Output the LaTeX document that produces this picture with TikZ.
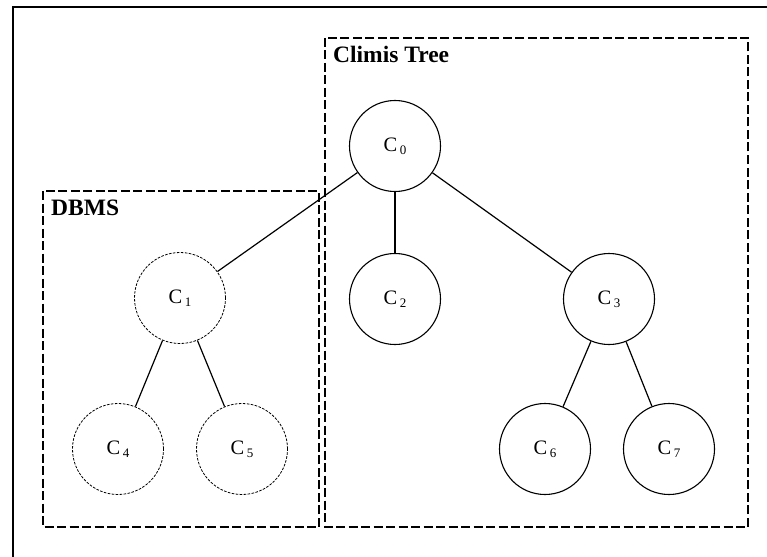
\documentclass[tikz,border=0pt]{standalone}
\usepackage{fontspec}
\setmainfont{Liberation Serif}
% cluster name with a lowered, smaller index
\newcommand{\cname}[1]{C\kern2.5pt\raisebox{-3pt}{\fontsize{13}{13}\selectfont #1}}
\begin{document}
\begin{tikzpicture}[x=1pt,y=-1pt,
  cluster/.style={circle, draw, fill=white, line width=1.1pt, minimum size=91pt,
    inner sep=0pt, font=\fontsize{20.5}{22}\selectfont},
  ghost/.style={cluster, dash pattern=on 2.6pt off 1.4pt, line width=0.8pt},
  region/.style={draw, line width=1.5pt, dash pattern=on 9pt off 3.5pt},
  tag/.style={anchor=base west, inner sep=0pt,
    font=\fontsize{23.5}{26}\selectfont\bfseries},
  link/.style={line width=1.2pt}]
  \clip (0,0) rectangle (767,556);
  \fill[white] (0,0) rectangle (767,556);

  % outer frame (runs past the right and bottom edges)
  \draw[line width=1.7pt] (13,7) rectangle (800,600);

  % grouping regions
  \draw[region] (325,38) rectangle (748,527);
  \draw[region] (43,191) rectangle (319,527);
  \node[tag] (climis) at (333,63) {Climis Tree};
  \node[tag] (dbms) at (51,215) {DBMS};

  % tree nodes
  \node[cluster] (c0) at (395,146) {\cname{0}};
  \node[ghost]   (c1) at (180,298) {\cname{1}};
  \node[cluster] (c2) at (395,299) {\cname{2}};
  \node[cluster] (c3) at (609,299) {\cname{3}};
  \node[ghost]   (c4) at (118,449) {\cname{4}};
  \node[ghost]   (c5) at (242,449) {\cname{5}};
  \node[cluster] (c6) at (545,449) {\cname{6}};
  \node[cluster] (c7) at (669,449) {\cname{7}};

  % tree edges
  \draw[link] (c0) -- (c1);
  \draw[link] (c0) -- (c2);
  \draw[link] (c0) -- (c3);
  \draw[link] (c1) -- (c4);
  \draw[link] (c1) -- (c5);
  \draw[link] (c3) -- (c6);
  \draw[link] (c3) -- (c7);
\end{tikzpicture}
\end{document}
